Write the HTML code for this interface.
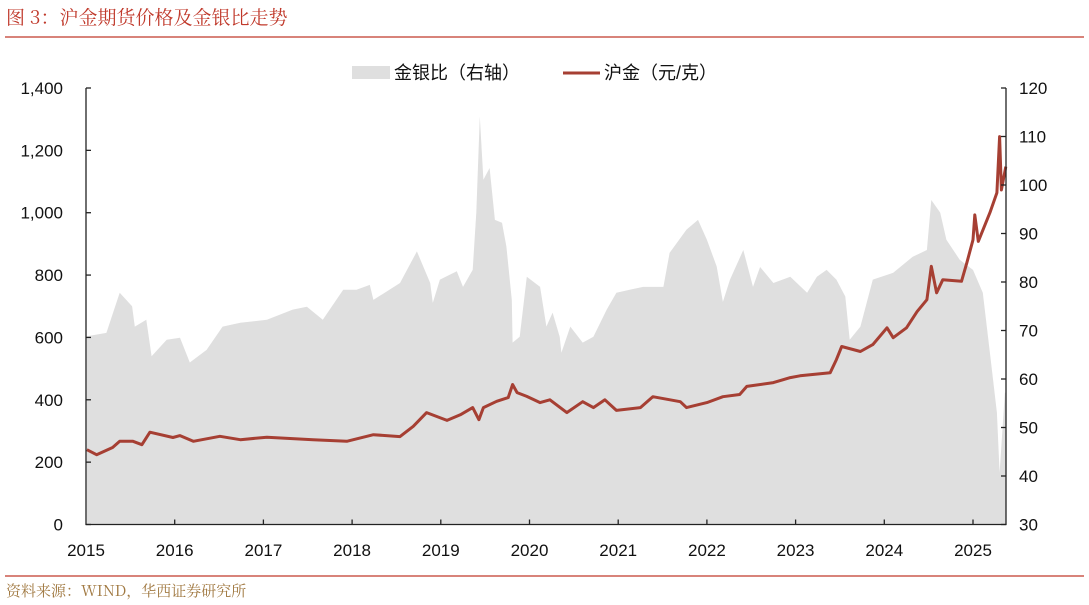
<!DOCTYPE html>
<html><head><meta charset="utf-8">
<style>
html,body{margin:0;padding:0;background:#fff;width:1089px;height:605px;overflow:hidden}
svg{display:block;font-family:"Liberation Sans","Noto Sans CJK SC",sans-serif}
</style></head>
<body>
<svg id="chart" width="1089" height="605" viewBox="0 0 1089 605">
<text x="6" y="24" font-size="19" fill="#c0392b" font-family="'Noto Serif CJK SC','Noto Sans CJK SC',serif">图 3：沪金期货价格及金银比走势</text>
<line x1="5" y1="37" x2="1084" y2="37" stroke="#c0392b" stroke-width="1.3"/>
<line x1="5" y1="576" x2="1084" y2="576" stroke="#c0392b" stroke-width="1.3"/>
<text x="6" y="596" font-size="15" fill="#a07840" font-family="'Noto Serif CJK SC','Noto Sans CJK SC',serif">资料来源：WIND，华西证券研究所</text>
<g>
 <rect x="352" y="66" width="38" height="13" fill="#dfdfdf"/>
 <text x="394" y="79" font-size="18" fill="#111">金银比（右轴）</text>
 <line x1="563" y1="73" x2="600" y2="73" stroke="#a63f33" stroke-width="3"/>
 <text x="604" y="79" font-size="18" fill="#111">沪金（元/克）</text>
</g>
<g id="plot"></g>
</svg>
<script>
const ratioT=[0.01,0.23,0.38,0.52,0.55,0.68,0.74,0.91,1.06,1.17,1.36,1.54,1.74,2.04,2.33,2.49,2.67,2.90,3.05,3.20,3.24,3.54,3.73,3.88,3.91,3.99,4.18,4.25,4.36,4.40,4.44,4.48,4.55,4.61,4.69,4.74,4.80,4.81,4.89,4.97,5.12,5.19,5.26,5.34,5.36,5.46,5.60,5.72,5.87,5.98,6.13,6.28,6.51,6.58,6.77,6.90,7.00,7.11,7.18,7.26,7.41,7.52,7.60,7.75,7.94,8.13,8.24,8.35,8.46,8.56,8.61,8.73,8.87,9.10,9.32,9.48,9.53,9.63,9.70,9.85,10.00,10.11,10.19,10.27,10.30,10.36,10.37];
const ratioV=[68.8,69.5,77.8,75.0,70.8,72.2,64.7,68.1,68.5,63.4,66.0,70.8,71.6,72.2,74.3,74.9,72.2,78.4,78.4,79.4,76.3,79.8,86.3,79.8,75.7,80.5,82.2,79.0,82.5,94.3,114.1,101.1,103.5,92.8,92.2,87.3,76.3,67.5,68.7,81.1,79.0,70.8,73.7,68.7,65.4,70.8,67.5,68.7,74.3,77.8,78.4,79.0,79.0,86.0,90.8,92.8,88.7,83.2,75.9,80.5,86.6,79.0,83.1,79.8,81.1,77.8,81.1,82.5,80.5,77.0,68.1,70.8,80.5,81.9,85.2,86.6,96.9,94.3,88.7,84.6,82.5,77.8,65.4,53.1,40.7,57.2,57.2];
const goldT=[0.01,0.12,0.30,0.38,0.53,0.63,0.72,0.98,1.06,1.21,1.51,1.74,2.04,2.56,2.94,3.24,3.54,3.69,3.84,4.07,4.22,4.36,4.43,4.48,4.63,4.76,4.81,4.86,4.97,5.12,5.23,5.42,5.60,5.72,5.85,5.98,6.25,6.39,6.70,6.77,7.00,7.18,7.37,7.45,7.75,7.94,8.05,8.39,8.46,8.52,8.73,8.87,9.03,9.10,9.25,9.37,9.48,9.53,9.59,9.66,9.87,9.93,10.00,10.02,10.06,10.19,10.27,10.30,10.32,10.37];
const goldV=[240,224,247,267,267,256,296,279,285,267,283,272,280,272,267,288,282,315,359,334,352,375,336,375,395,407,449,423,411,391,400,359,394,375,400,366,375,410,394,375,391,410,417,443,455,471,477,487,529,571,555,577,631,599,631,683,721,828,743,785,780,839,913,993,908,1000,1064,1244,1073,1148];
const leftTicks=[0,200,400,600,800,1000,1200,1400];
const leftLabels=["0","200","400","600","800","1,000","1,200","1,400"];
const rightTicks=[30,40,50,60,70,80,90,100,110,120];
const yearLabels=["2015","2016","2017","2018","2019","2020","2021","2022","2023","2024","2025"];

const X0=86,X1=1006,YB=524.5,YT=88,PXY=88.7;
const xs=t=>X0+t*PXY;
const yl=v=>YB-(v/1400)*(YB-YT);
const yr=v=>YB-((v-30)/90)*(YB-YT);
const NS="http://www.w3.org/2000/svg";
const g=document.getElementById('plot');
function mk(tag,attrs){const e=document.createElementNS(NS,tag);for(const k in attrs)e.setAttribute(k,attrs[k]);g.appendChild(e);return e;}

let d=`M${xs(ratioT[0])},${YB}`;
ratioT.forEach((t,i)=>{d+=` L${xs(t).toFixed(1)},${yr(ratioV[i]).toFixed(1)}`;});
d+=` L${xs(ratioT[ratioT.length-1])},${YB} Z`;
const area=mk('path',{d:d,fill:'#dfdfdf'});



let dl='';
goldT.forEach((t,i)=>{dl+=(i?' L':'M')+xs(t).toFixed(1)+','+yl(goldV[i]).toFixed(1);});
const line=mk('path',{d:dl,fill:'none',stroke:'#a63f33','stroke-width':3,'stroke-linejoin':'round'});



const ax=mk('path',{d:`M${X0},${YT} L${X0},${YB} L${X1},${YB} L${X1},${YT}`,fill:'none',stroke:'#222','stroke-width':1.3});



leftTicks.forEach((v,i)=>{
 const y=yl(v);
 const tk=mk('line',{x1:X0,x2:X0+5,y1:y,y2:y,stroke:'#222','stroke-width':1.3});
 
 
 const tx=mk('text',{x:63,y:y+6,'font-size':17,'text-anchor':'end',fill:'#111'});
 tx.textContent=leftLabels[i];
 
 
});
rightTicks.forEach(v=>{
 const y=yr(v);
 const tk=mk('line',{x1:X1-5,x2:X1,y1:y,y2:y,stroke:'#222','stroke-width':1.3});
 
 
 const tx=mk('text',{x:1019,y:y+6,'font-size':17,fill:'#111'});
 tx.textContent=String(v);
 
 
});
yearLabels.forEach((s,i)=>{
 const x=xs(i);
 if(i>0){const tk=mk('line',{x1:x,x2:x,y1:YB-5,y2:YB,stroke:'#222','stroke-width':1.3});
 
 }
 const tx=mk('text',{x:x,y:556,'font-size':17,'text-anchor':'middle',fill:'#111'});
 tx.textContent=s;
 
 
});
</script>
</body></html>
